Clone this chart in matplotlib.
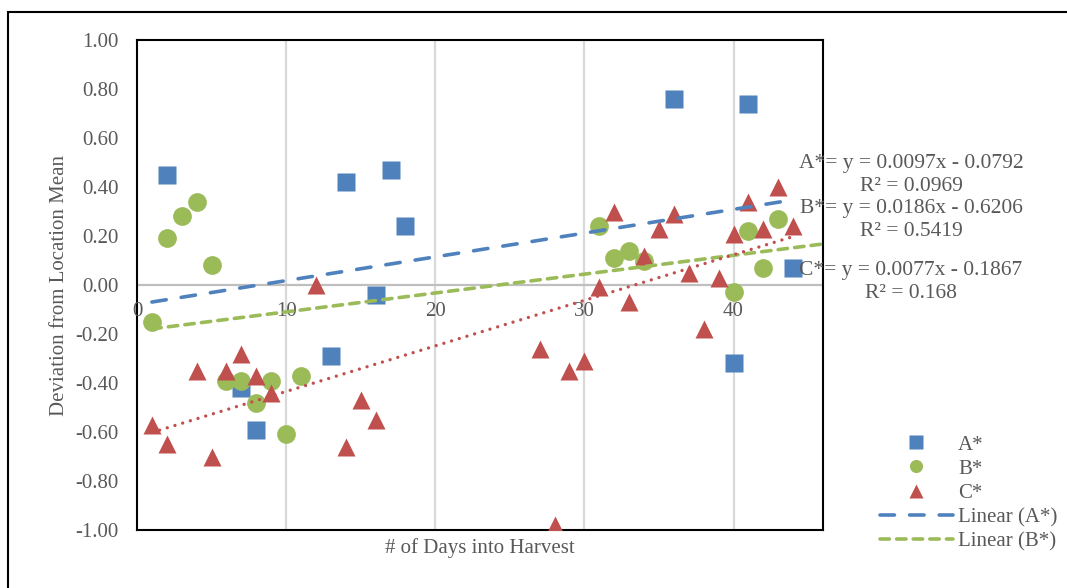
import numpy as np
import matplotlib.pyplot as plt
from matplotlib.patches import Rectangle

# Excel-style palette
BLUE, GREEN, RED, GREY = '#4F81BD', '#9BBB59', '#C0504D', '#595959'

# A* readings (day, deviation)
a_days = [2, 7, 8, 13, 14, 16, 17, 18, 36, 40, 41, 44]
a_dev = [0.45, -0.42, -0.59, -0.29, 0.42, -0.04, 0.47, 0.24, 0.76, -0.32, 0.74, 0.07]

# B* readings
b_days = [1, 2, 3, 4, 5, 6, 7, 8, 9, 10, 11, 31, 32, 33, 34, 40, 41, 42, 43]
b_dev = [-0.15, 0.19, 0.28, 0.34, 0.08, -0.39, -0.39, -0.48, -0.39, -0.61, -0.37,
         0.24, 0.11, 0.14, 0.10, -0.03, 0.22, 0.07, 0.27]

# C* readings
c_days = [1, 2, 4, 5, 6, 7, 8, 9, 12, 14, 15, 16, 27, 28, 29, 30, 31, 32, 33,
          34, 35, 36, 37, 38, 39, 40, 41, 42, 43, 44]
c_dev = [-0.57, -0.65, -0.35, -0.70, -0.35, -0.28, -0.37, -0.44, 0.00, -0.66,
         -0.47, -0.55, -0.26, -0.98, -0.35, -0.31, -0.01, 0.30, -0.07, 0.12,
         0.23, 0.29, 0.05, -0.18, 0.03, 0.21, 0.34, 0.23, 0.40, 0.24]

# trendlines as shown on the chart: slope, intercept, x range
trend_blue = (0.0097, -0.0792, 1, 44)
trend_green = (0.0077, -0.1867, 1, 46)
trend_red = (0.0186, -0.6206, 1, 44)

eq_labels = ['A*= y = 0.0097x - 0.0792\nR\u00b2 = 0.0969',
             'B*= y = 0.0186x - 0.6206\nR\u00b2 = 0.5419',
             'C*= y = 0.0077x - 0.1867\nR\u00b2 = 0.168']

x_ticks = [0, 10, 20, 30, 40]
y_ticks = [-1.0, -0.8, -0.6, -0.4, -0.2, 0.0, 0.2, 0.4, 0.6, 0.8, 1.0]
y_tick_labels = ['-1.00', '-0.80', '-0.60', '-0.40', '-0.20', '0.00',
                 '0.20', '0.40', '0.60', '0.80', '1.00']

plt.rcParams['font.family'] = ['Liberation Serif', 'DejaVu Serif']

fig = plt.figure(figsize=(10.67, 5.88), dpi=100)
ax = fig.add_axes([137/1067, 1 - 530/588, 686/1067, 490/588])

# outer chart border (cut off at right and bottom like the source)
fig.patches.append(Rectangle((8/1067, -0.05), 1.2, 1 - 12/588 + 0.05,
                             transform=fig.transFigure, fill=False,
                             lw=1.5, ec='black'))

ms = 13.5
ax.plot(a_days, a_dev, 's', color=BLUE, ms=ms, mec='none', label='A*', zorder=3)
ax.plot(b_days, b_dev, 'o', color=GREEN, ms=ms, mec='none', label='B*', zorder=3)
ax.plot(c_days, c_dev, '^', color=RED, ms=ms, mec='none', label='C*', zorder=3)

def trend(t):
    m, c, x0, x1 = t
    xs = np.array([x0, x1])
    return xs, m * xs + c

xs, ys = trend(trend_blue)
ax.plot(xs, ys, color=BLUE, lw=2.6, ls=(0, (4.0, 4.2)), dash_capstyle='round',
        label='Linear (A*)', zorder=4)
xs, ys = trend(trend_green)
ax.plot(xs, ys, color=GREEN, lw=2.6, ls=(0, (2.6, 2.0)), dash_capstyle='round',
        label='Linear (B*)', zorder=4)
xs, ys = trend(trend_red)
ax.plot(xs, ys, color=RED, lw=2.4, ls=(0, (0.01, 2.4)), dash_capstyle='round',
        zorder=4)

ax.set_xlim(0, 46)
ax.set_ylim(-1, 1)
ax.set_yticks(y_ticks)
ax.set_yticklabels(y_tick_labels)
ax.set_xticks(x_ticks)
ax.set_xticklabels([])
ax.tick_params(length=0, labelsize=15, labelcolor=GREY)
ax.tick_params(axis='y', pad=13)

# gridlines
for t in x_ticks[1:]:
    ax.axvline(t, color='#D9D9D9', lw=1.6, zorder=1)
ax.axhline(0, color='#BFBFBF', lw=1.6, zorder=1)

# x tick labels sit on the zero line
for t in x_ticks:
    ax.annotate(str(t), (t, 0), xytext=(0, -12), textcoords='offset points',
                ha='center', va='top', fontsize=15, color=GREY)

for s in ax.spines.values():
    s.set_color('black')
    s.set_linewidth(1.5)

ax.set_xlabel('# of Days into Harvest', fontsize=15, color=GREY)
ax.xaxis.set_label_coords(0.5, -0.016)
ax.set_ylabel('Deviation from Location Mean', fontsize=15, color=GREY)
ax.yaxis.set_label_coords(-0.099, 0.5)

# trendline equations
for lab, yc in zip(eq_labels, [175, 220, 282]):
    fig.text(911/1067, 1 - yc/588, lab, ha='center', va='center',
             multialignment='center', fontsize=15.5, color=GREY,
             linespacing=1.3, zorder=10)

handles, labels = ax.get_legend_handles_labels()
leg = fig.legend(handles, labels, loc='upper left',
                 bbox_to_anchor=(880/1067, 1 - 435/588), frameon=False,
                 fontsize=15, handlelength=3.5, handletextpad=0.25,
                 labelspacing=0.22, borderpad=0, borderaxespad=0,
                 markerscale=0.7)
for t in leg.get_texts():
    t.set_color(GREY)

fig.savefig('out.png', dpi=100)
